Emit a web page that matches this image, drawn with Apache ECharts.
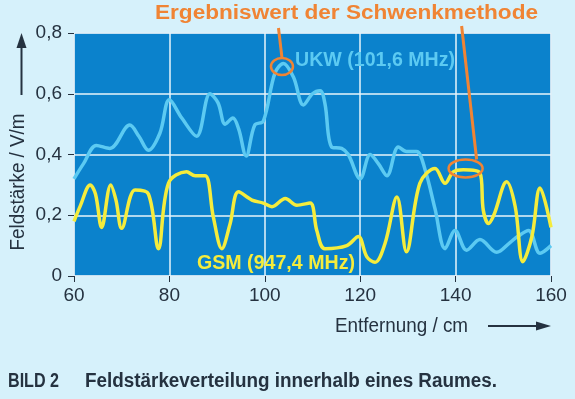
<!DOCTYPE html>
<html>
<head>
<meta charset="utf-8">
<script src="https://cdn.jsdelivr.net/npm/echarts@6/dist/echarts.min.js"></script>
<style>
  html, body { margin: 0; padding: 0; background: #d6f1fb; }
  #main { width: 575px; height: 399px; }
</style>
</head>
<body>
<div id="main"></div>
<script>
// UKW (101,6 MHz) - Entfernung in cm / Feldstärke in V/m
var ukwX = [60, 62, 64.7, 67.5, 71.7, 73.6, 75.6, 78, 80, 82.6, 85.7, 88.5, 90.2, 91.7, 93.3, 94.5, 96.1, 97.9, 99.7, 102.1, 103.9, 106, 108.1, 110, 111.6, 112.6, 114, 116.1, 117.5, 120, 122.1, 123.8, 125.6, 128, 129.7, 131.8, 133.6, 135.7, 137.8, 139.9, 142.3, 145.1, 148.6, 151.4, 153, 155.3, 157.7, 160];
var ukwY = [0.32, 0.37, 0.43, 0.42, 0.497, 0.46, 0.414, 0.47, 0.58, 0.52, 0.46, 0.60, 0.57, 0.50, 0.52, 0.485, 0.395, 0.497, 0.51, 0.667, 0.70, 0.655, 0.563, 0.60, 0.61, 0.568, 0.425, 0.42, 0.40, 0.32, 0.40, 0.37, 0.33, 0.425, 0.41, 0.41, 0.35, 0.22, 0.09, 0.15, 0.085, 0.12, 0.078, 0.11, 0.13, 0.15, 0.075, 0.10];

// GSM (947,4 MHz)
var gsmX = [60, 61.3, 63.4, 64.5, 65.8, 67.7, 68.8, 70, 72.8, 75.6, 77.7, 79.8, 83.6, 85.4, 87.5, 89.2, 91, 92.7, 94.5, 97.3, 99.7, 101.5, 104.3, 106.7, 109.5, 110.9, 112.6, 117.2, 119.6, 121.4, 123.1, 125.2, 127.7, 129.7, 132.5, 135.7, 137.8, 139.5, 141.6, 145.1, 145.8, 146.9, 148, 150.7, 152.5, 154.1, 156, 157.7, 160];
var gsmY = [0.18, 0.23, 0.30, 0.27, 0.16, 0.30, 0.25, 0.157, 0.283, 0.27, 0.09, 0.305, 0.343, 0.33, 0.33, 0.195, 0.09, 0.17, 0.277, 0.25, 0.24, 0.228, 0.255, 0.233, 0.24, 0.15, 0.09, 0.10, 0.13, 0.063, 0.045, 0.107, 0.26, 0.08, 0.305, 0.354, 0.305, 0.343, 0.35, 0.34, 0.217, 0.173, 0.2, 0.31, 0.228, 0.047, 0.13, 0.29, 0.16];

// Ergebniswert der Schwenkmethode (Markierungen)
var markX = [103.6, 142.1];
var markY = [0.69, 0.354];

function pairs(xs, ys) {
    var out = [];
    for (var i = 0; i < xs.length; i++) {
        out.push([xs[i], ys[i]]);
    }
    return out;
}

// schmale Schrift nachbilden: Breite messen und horizontal stauchen
var measureCtx = document.createElement('canvas').getContext('2d');
function fitScale(text, font, width) {
    measureCtx.font = font;
    return width / measureCtx.measureText(text).width;
}

function squeezedText(text, font, width, x, y, color) {
    return {
        type: 'text',
        x: x, y: y,
        scaleX: fitScale(text, font, width),
        z: 10,
        style: {
            text: text,
            fill: color,
            font: font,
            verticalAlign: 'middle'
        }
    };
}

var sans = "'Liberation Sans', Arial, sans-serif";
var dark = '#253240';
var orange = '#f08434';

var myChart = echarts.init(document.getElementById('main'));

var option = {
    backgroundColor: '#d6f1fb',
    animation: false,
    grid: {
        left: 74,
        right: 24,
        top: 33,
        bottom: 123,
        show: true,
        backgroundColor: '#0b82cc',
        borderColor: '#a8cde2',
        borderWidth: 1
    },
    xAxis: {
        type: 'value',
        min: 60,
        max: 160,
        interval: 20,
        axisLine: { show: false },
        axisTick: {
            show: true,
            length: 6,
            lineStyle: { color: dark, width: 1 }
        },
        axisLabel: {
            color: dark,
            fontSize: 19,
            fontFamily: sans,
            margin: 10
        },
        splitLine: {
            lineStyle: { color: '#e8f4fb', width: 1.5 }
        }
    },
    yAxis: {
        type: 'value',
        min: 0,
        max: 0.8,
        interval: 0.2,
        axisLine: { show: false },
        axisTick: {
            show: true,
            length: 6,
            lineStyle: { color: dark, width: 1 }
        },
        axisLabel: {
            color: dark,
            fontSize: 19,
            fontFamily: sans,
            margin: 12,
            formatter: function (v) {
                return v === 0 ? '0' : v.toFixed(1).replace('.', ',');
            }
        },
        splitLine: {
            lineStyle: { color: '#e8f4fb', width: 1.5 }
        }
    },
    series: [
        {
            name: 'UKW (101,6 MHz)',
            type: 'line',
            data: pairs(ukwX, ukwY),
            showSymbol: false,
            smooth: 0.35,
            lineStyle: { color: '#5ccaf2', width: 3.5 },
            z: 3
        },
        {
            name: 'GSM (947,4 MHz)',
            type: 'line',
            data: pairs(gsmX, gsmY),
            showSymbol: false,
            smooth: 0.35,
            lineStyle: { color: '#f5ec3c', width: 3.5 },
            z: 4
        }
    ]
};

myChart.setOption(option);

// Annotationen an Datenpunkten
var p1 = myChart.convertToPixel({ gridIndex: 0 }, [markX[0], markY[0]]);
var p2 = myChart.convertToPixel({ gridIndex: 0 }, [markX[1], markY[1]]);

var yTitleScale = fitScale('Feldstärke / V/m', '20px ' + sans, 137);

myChart.setOption({
    graphic: [
        // Überschrift der Markierungen
        squeezedText('Ergebniswert der Schwenkmethode', 'bold 20px ' + sans, 383, 155, 13, orange),
        // Feldstärke-Achsentitel
        {
            type: 'text',
            x: 18, y: 182,
            rotation: Math.PI / 2,
            scaleX: yTitleScale,
            style: {
                text: 'Feldstärke / V/m',
                fill: dark,
                font: '20px ' + sans,
                align: 'center',
                verticalAlign: 'middle'
            }
        },
        {
            type: 'line',
            shape: { x1: 21.5, y1: 95, x2: 21.5, y2: 45 },
            style: { stroke: dark, lineWidth: 2 }
        },
        {
            type: 'polygon',
            shape: { points: [[16.5, 48], [26.5, 48], [21.5, 33]] },
            style: { fill: dark }
        },
        // Entfernung-Achsentitel
        squeezedText('Entfernung / cm', '20px ' + sans, 133, 335, 326, dark),
        {
            type: 'line',
            shape: { x1: 488, y1: 326, x2: 540, y2: 326 },
            style: { stroke: dark, lineWidth: 2 }
        },
        {
            type: 'polygon',
            shape: { points: [[536, 321.5], [536, 330.5], [551, 326]] },
            style: { fill: dark }
        },
        // Serienbeschriftungen
        squeezedText('UKW (101,6 MHz)', 'bold 21px ' + sans, 160, 295, 60, '#5ccaf2'),
        squeezedText('GSM (947,4 MHz)', 'bold 21px ' + sans, 158, 197, 263, '#f5ec3c'),
        // Markierungen Schwenkmethode
        {
            type: 'ellipse',
            shape: { cx: p1[0], cy: p1[1], rx: 11, ry: 8.5 },
            style: { fill: 'none', stroke: orange, lineWidth: 2.5 },
            z: 20
        },
        {
            type: 'line',
            shape: { x1: p1[0] - 3.5, y1: 28, x2: p1[0], y2: p1[1] - 8.5 },
            style: { stroke: orange, lineWidth: 3 },
            z: 20
        },
        {
            type: 'ellipse',
            shape: { cx: p2[0], cy: p2[1], rx: 17, ry: 9 },
            style: { fill: 'none', stroke: orange, lineWidth: 2.5 },
            z: 20
        },
        {
            type: 'line',
            shape: { x1: p2[0] - 4, y1: 26, x2: p2[0] + 11, y2: p2[1] - 9 },
            style: { stroke: orange, lineWidth: 3 },
            z: 20
        },
        // Bildunterschrift
        squeezedText('BILD 2', 'bold 20px ' + sans, 51, 8, 381, dark),
        squeezedText('Feldstärkeverteilung innerhalb eines Raumes.', 'bold 20px ' + sans, 412, 85, 381, dark)
    ]
});
</script>
</body>
</html>
